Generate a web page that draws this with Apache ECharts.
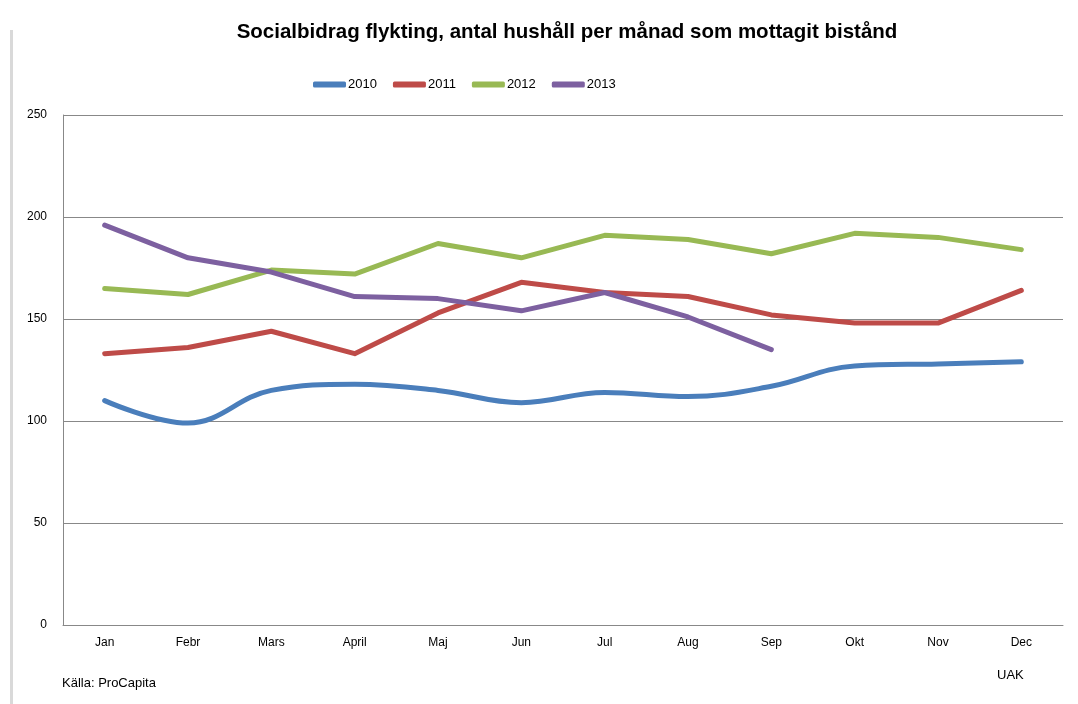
<!DOCTYPE html>
<html>
<head>
<meta charset="utf-8">
<script src="https://cdn.jsdelivr.net/npm/echarts@6/dist/echarts.min.js"></script>
<style>
  html, body { margin: 0; padding: 0; background: #fff; }
  #main { width: 1078px; height: 704px; }
</style>
</head>
<body>
<div id="main"></div>
<script>
// månader på x-axeln
var months = ['Jan', 'Febr', 'Mars', 'April', 'Maj', 'Jun', 'Jul', 'Aug', 'Sep', 'Okt', 'Nov', 'Dec']
// antal hushåll per år
var v2010 = [110, 99, 115, 118, 115, 109, 114, 112, 117, 127, 128, 129]
var v2011 = [133, 136, 144, 133, 153, 168, 163, 161, 152, 148, 148, 164]
var v2012 = [165, 162, 174, 172, 187, 180, 191, 189, 182, 192, 190, 184]
var v2013 = [196, 180, 173, 161, 160, 154, 163, 151, 135]
var years = ['2010', '2011', '2012', '2013']
var colors = ['#4a7ebb', '#be4b48', '#98b954', '#7d60a0']

var chart = echarts.init(document.getElementById('main'))

function serie(name, data, color, smooth) {
  return {
    name: name,
    type: 'line',
    data: data,
    smooth: smooth ? 0.4 : false,
    showSymbol: false,
    lineStyle: { width: 5, color: color, cap: 'round', join: 'round' },
    itemStyle: { color: color }
  }
}

var option = {
  animation: false,
  textStyle: { fontFamily: 'Liberation Sans', color: '#000' },
  title: {
    text: 'Socialbidrag flykting, antal hushåll per månad som mottagit bistånd',
    left: 562,
    textAlign: 'center',
    top: 17,
    textStyle: { fontSize: 20.5, fontWeight: 'bold', color: '#000' }
  },
  legend: {
    data: years,
    left: 308,
    top: 73,
    icon: 'roundRect',
    itemWidth: 33,
    itemHeight: 6,
    itemGap: 16,
    textStyle: { fontSize: 13, color: '#000', padding: [0, 0, 0, -3] }
  },
  grid: { left: 63, right: 15, top: 115, bottom: 79 },
  xAxis: {
    type: 'category',
    data: months,
    boundaryGap: true,
    axisLine: { lineStyle: { color: '#888', width: 1 } },
    axisTick: { show: false },
    axisLabel: { fontSize: 12, color: '#000', margin: 12 }
  },
  yAxis: {
    type: 'value',
    min: 0,
    max: 250,
    interval: 50,
    axisLine: { show: true, lineStyle: { color: '#888', width: 1 } },
    axisTick: { show: false },
    axisLabel: { fontSize: 12, color: '#000', margin: 16 },
    splitLine: { lineStyle: { color: '#888', width: 1 } }
  },
  series: [
    serie('2010', v2010, colors[0], true),
    serie('2011', v2011, colors[1], false),
    serie('2012', v2012, colors[2], false),
    serie('2013', v2013, colors[3], false)
  ],
  graphic: [
    {
      type: 'rect',
      shape: { x: 10, y: 30, width: 3, height: 674 },
      style: { fill: '#d9d9d9' }
    },
    {
      type: 'text',
      left: 62,
      top: 677,
      style: { text: 'Källa: ProCapita', fontSize: 13, fill: '#000', fontFamily: 'Liberation Sans' }
    },
    {
      type: 'text',
      left: 997,
      top: 669,
      style: { text: 'UAK', fontSize: 13, fill: '#000', fontFamily: 'Liberation Sans' }
    }
  ]
}

chart.setOption(option)
</script>
</body>
</html>
